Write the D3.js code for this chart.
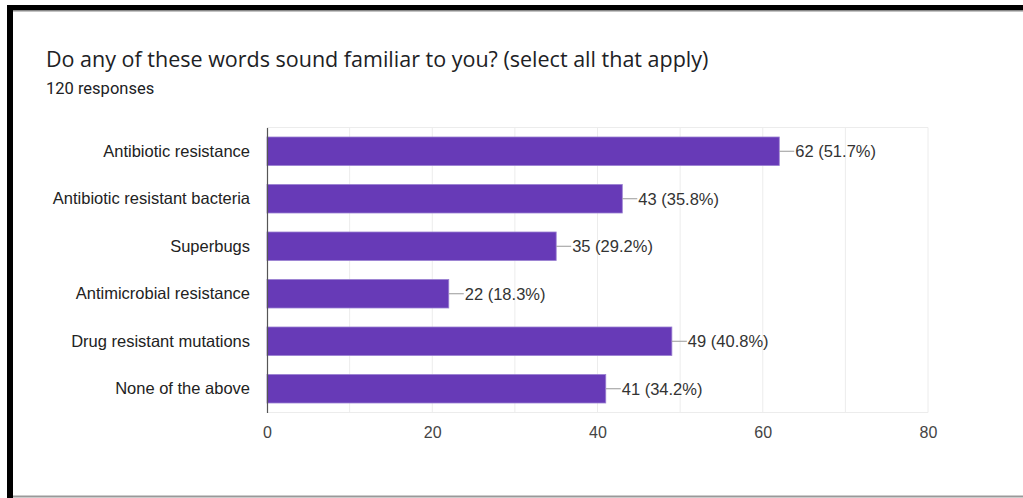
<!DOCTYPE html>
<html>
<head>
<meta charset="utf-8">
<script src="https://cdn.jsdelivr.net/npm/d3@7"></script>
<style>
  html, body { margin: 0; padding: 0; background: #fff; }
  svg { display: block; }
</style>
</head>
<body>
<svg id="chart" width="1023" height="498"></svg>
<script>
// Survey question: word familiarity (multiple selections allowed)
const categories = [
  "Antibiotic resistance",
  "Antibiotic resistant bacteria",
  "Superbugs",
  "Antimicrobial resistance",
  "Drug resistant mutations",
  "None of the above"
];
const counts = [62, 43, 35, 22, 49, 41];
const percents = ["51.7%", "35.8%", "29.2%", "18.3%", "40.8%", "34.2%"];
const xTicks = [0, 20, 40, 60, 80];
const gridValues = [10, 20, 30, 40, 50, 60, 70, 80];
const titleText = "Do any of these words sound familiar to you? (select all that apply)";
const subtitleText = "120 responses";

const svg = d3.select("#chart");

// Card frame
svg.append("rect").attr("x", 0).attr("y", 0).attr("width", 1023).attr("height", 498).attr("fill", "#fff");
svg.append("rect").attr("x", 7).attr("y", 5).attr("width", 1016).attr("height", 5).attr("fill", "#000");
svg.append("rect").attr("x", 7).attr("y", 10).attr("width", 1016).attr("height", 1.5).attr("fill", "#888");
svg.append("rect").attr("x", 7).attr("y", 5).attr("width", 6).attr("height", 493).attr("fill", "#000");
svg.append("rect").attr("x", 13).attr("y", 495.5).attr("width", 1010).attr("height", 2).attr("fill", "#999");

// Headings
svg.append("text").attr("x", 46).attr("y", 67)
  .attr("font-family", "'Open Sans', Roboto, sans-serif").attr("font-size", 21.5)
  .attr("fill", "#202124").text(titleText);
svg.append("text").attr("x", 46).attr("y", 94)
  .attr("font-family", "Roboto, 'Open Sans', sans-serif").attr("font-size", 16.5)
  .attr("fill", "#202124").text(subtitleText);

const plot = { left: 267, right: 928, top: 127.5, bottom: 412.5 };

const x = d3.scaleLinear().domain([0, 80]).range([plot.left, plot.right]);
const y = d3.scaleBand().domain(categories).range([plot.top, plot.bottom]).paddingInner(0.4).paddingOuter(0.2);

const font = "'Liberation Sans', Arial, sans-serif";

// Grid
const g = svg.append("g");
g.selectAll("line.grid").data(gridValues).join("line")
  .attr("class", "grid")
  .attr("x1", d => x(d)).attr("x2", d => x(d))
  .attr("y1", plot.top).attr("y2", plot.bottom)
  .attr("stroke", "#ececec").attr("stroke-width", 1);
g.append("line").attr("x1", plot.left).attr("x2", plot.right)
  .attr("y1", plot.top).attr("y2", plot.top).attr("stroke", "#ececec");
g.append("line").attr("x1", plot.left).attr("x2", plot.right)
  .attr("y1", plot.bottom).attr("y2", plot.bottom).attr("stroke", "#ececec");

// Bars
const rows = categories.map((c, i) => ({ c, v: counts[i], p: percents[i] }));
g.selectAll("rect.bar").data(rows).join("rect")
  .attr("class", "bar")
  .attr("x", x(0)).attr("y", d => y(d.c))
  .attr("width", d => x(d.v) - x(0)).attr("height", y.bandwidth())
  .attr("fill", "#673ab7").attr("stroke", "#9a7fd1").attr("stroke-width", 0.8);

// Value labels with leader lines
g.selectAll("line.lead").data(rows).join("line")
  .attr("class", "lead")
  .attr("x1", d => x(d.v)).attr("x2", d => x(d.v) + 15)
  .attr("y1", d => y(d.c) + y.bandwidth() / 2).attr("y2", d => y(d.c) + y.bandwidth() / 2)
  .attr("stroke", "#999").attr("stroke-width", 1);
g.selectAll("text.val").data(rows).join("text")
  .attr("class", "val")
  .attr("x", d => x(d.v) + 16).attr("y", d => y(d.c) + y.bandwidth() / 2)
  .attr("dy", "0.35em")
  .attr("font-family", font).attr("font-size", 16.5).attr("fill", "#333")
  .text(d => `${d.v} (${d.p})`);

// Category axis
const yAxis = svg.append("g").attr("transform", `translate(${plot.left},0)`)
  .call(d3.axisLeft(y).tickSize(0).tickPadding(17));
yAxis.select(".domain").attr("stroke", "#555").attr("stroke-width", 1.2);
yAxis.selectAll("text").attr("font-family", font).attr("font-size", 16.5).attr("fill", "#222");

// Value axis
const xAxis = svg.append("g").attr("transform", `translate(0,${plot.bottom})`)
  .call(d3.axisBottom(x).tickValues(xTicks).tickSize(0).tickPadding(14));
xAxis.select(".domain").remove();
xAxis.selectAll("text").attr("font-family", font).attr("font-size", 16).attr("fill", "#444");
</script>
</body>
</html>
